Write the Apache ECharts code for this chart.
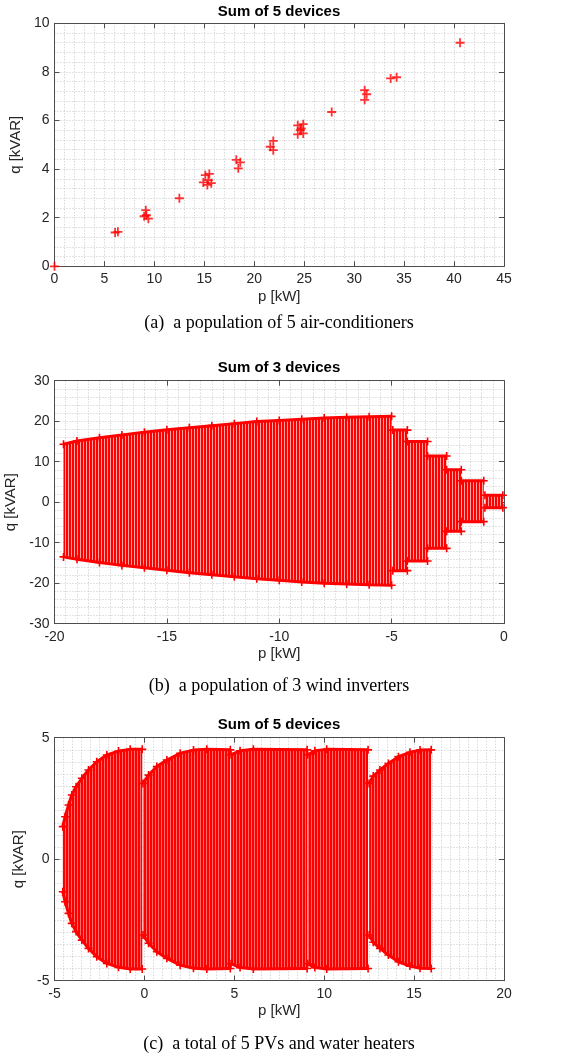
<!DOCTYPE html>
<html>
<head>
<meta charset="utf-8">
<script src="https://cdn.jsdelivr.net/npm/echarts@6/dist/echarts.min.js"></script>
<style>
  html, body { margin: 0; padding: 0; background: #fff; }
  #chart { width: 565px; height: 1059px; }
</style>
</head>
<body>
<div id="chart"></div>
<script>
// (a) 5 air-conditioners, p [kW] / q [kVAR]
const acP = [0, 6.07, 6.35, 8.97, 9.14, 9.2, 9.4, 12.5, 14.9, 15.1, 15.3, 15.4, 15.5, 15.7,
  18.2, 18.4, 18.6, 21.6, 21.9, 21.9, 24.35, 24.35, 24.6, 24.7, 24.9, 24.9, 27.75,
  31.05, 31.05, 31.25, 33.65, 34.25, 40.6];
const acQ = [0, 1.39, 1.42, 2.06, 2.31, 2.1, 1.96, 2.8, 3.45, 3.75, 3.35, 3.55, 3.8, 3.42,
  4.38, 4.03, 4.28, 4.92, 5.16, 4.78, 5.8, 5.43, 5.6, 5.67, 5.85, 5.47, 6.35,
  7.25, 6.85, 7.08, 7.73, 7.78, 9.2];
const acXTicks = [0, 5, 10, 15, 20, 25, 30, 35, 40, 45];
const acYTicks = [0, 2, 4, 6, 8, 10];

// (b) 3 wind inverters: big block + steps towards p = 0
const windMainP = [-19.6, -19, -18, -17, -16, -15, -14, -13, -12, -11, -10, -9, -8, -7, -6, -5];
const windMainTop = [14.3, 15.1, 15.9, 16.6, 17.3, 17.9, 18.4, 18.9, 19.4, 19.9, 20.2, 20.5, 20.8, 21.0, 21.1, 21.2];
const windMainBot = [-13.5, -14.1, -14.9, -15.6, -16.2, -16.8, -17.4, -17.9, -18.4, -18.9, -19.3, -19.7, -20.0, -20.2, -20.4, -20.5];
const windStepFrom = [-4.95, -4.3, -3.4, -2.55, -1.9, -0.85];
const windStepTo = [-4.3, -3.4, -2.55, -1.9, -0.9, -0.05];
const windStepTop = [17.8, 15.0, 11.4, 8.0, 5.3, 1.7];
const windStepBot = [-16.9, -14.5, -11.4, -7.2, -4.8, -1.35];
const windXTicks = [-20, -15, -10, -5, 0];
const windYTicks = [-30, -20, -10, 0, 10, 20, 30];

// (c) 5 PVs and water heaters: five lobes
const pvLobeP = [
  [-4.54, -4.41, -4.22, -4.04, -3.8, -3.48, -3.11, -2.65, -2.09, -1.44, -0.79, -0.12],
  [-0.08, 0.23, 0.69, 1.25, 1.99, 2.73, 3.47, 4.78],
  [4.82, 5.32, 6.06, 9.05],
  [9.08, 9.48, 10.14, 12.44],
  [12.5, 12.73, 13.1, 13.57, 14.13, 14.77, 15.33, 15.95]
];
const pvLobeTop = [
  [1.34, 1.75, 2.23, 2.64, 2.98, 3.33, 3.67, 4.01, 4.29, 4.45, 4.52, 4.52],
  [3.12, 3.46, 3.81, 4.08, 4.36, 4.49, 4.52, 4.5],
  [4.3, 4.46, 4.52, 4.5],
  [4.3, 4.46, 4.52, 4.5],
  [3.12, 3.42, 3.67, 3.94, 4.22, 4.4, 4.49, 4.5]
];
const pvLobeBot = [
  [-1.34, -1.75, -2.23, -2.64, -2.98, -3.33, -3.67, -4.01, -4.29, -4.45, -4.52, -4.52],
  [-3.12, -3.46, -3.81, -4.08, -4.36, -4.49, -4.52, -4.5],
  [-4.3, -4.46, -4.52, -4.5],
  [-4.3, -4.46, -4.52, -4.5],
  [-3.12, -3.42, -3.67, -3.94, -4.22, -4.4, -4.49, -4.5]
];
const pvXTicks = [-5, 0, 5, 10, 15, 20];
const pvYTicks = [-5, 0, 5];

const RED = '#ff0000';
const AXIS = '#4d4d4d';
const SANS = 'Liberation Sans';
const SERIF = 'Liberation Serif';
const plus = 'path://M-1 -5H1V-1H5V1H1V5H-1V1H-5V-1H-1Z';
const dots = { color: '#c6c6c6', width: 1, type: [1, 2] };

// vertical stripes like the densely drawn columns
function stripes(redW, pink) {
  const c = document.createElement('canvas');
  c.width = redW + 1; c.height = 4;
  const g = c.getContext('2d');
  g.fillStyle = pink; g.fillRect(0, 0, c.width, 4);
  g.fillStyle = RED; g.fillRect(0, 0, redW, 4);
  return { image: c, repeat: 'repeat' };
}

const panels = [
  { top: 23.3, xt: acXTicks, yt: acYTicks, xMinor: 5, yMinor: 5, yGap: 25 },
  { top: 380.7, xt: windXTicks, yt: windYTicks, xMinor: 10, yMinor: 5, yGap: 28 },
  { top: 737.7, xt: pvXTicks, yt: pvYTicks, xMinor: 10, yMinor: 10, yGap: 22 }
];

const grid = [], xAxis = [], yAxis = [];
panels.forEach((pn, i) => {
  grid.push({ left: 54.5, right: 61, top: pn.top, height: 243, outerBoundsMode: 'none' });
  const xr = { min: pn.xt[0], max: pn.xt[pn.xt.length - 1], interval: pn.xt[1] - pn.xt[0] };
  const yr = { min: pn.yt[0], max: pn.yt[pn.yt.length - 1], interval: pn.yt[1] - pn.yt[0] };
  const line = { show: true, onZero: false, lineStyle: { color: AXIS, width: 1 } };
  const tick = { show: true, inside: true, length: 5, lineStyle: { color: AXIS } };
  xAxis.push(Object.assign({
    gridIndex: i, type: 'value', position: 'bottom',
    axisLine: line, axisTick: tick,
    axisLabel: { color: '#262626', fontSize: 14, fontFamily: SANS, margin: 6 },
    splitLine: { show: true, lineStyle: dots },
    minorTick: { show: false, splitNumber: pn.xMinor },
    minorSplitLine: { show: true, lineStyle: dots },
    name: 'p [kW]', nameLocation: 'middle', nameGap: 23,
    nameTextStyle: { color: '#262626', fontSize: 15, fontFamily: SANS }
  }, xr));
  xAxis.push(Object.assign({
    gridIndex: i, type: 'value', position: 'top',
    axisLine: line, axisTick: tick, axisLabel: { show: false }, splitLine: { show: false }
  }, xr));
  yAxis.push(Object.assign({
    gridIndex: i, type: 'value', position: 'left',
    axisLine: line, axisTick: tick,
    axisLabel: { color: '#262626', fontSize: 14, fontFamily: SANS, margin: 5 },
    splitLine: { show: true, lineStyle: dots },
    minorTick: { show: false, splitNumber: pn.yMinor },
    minorSplitLine: { show: true, lineStyle: dots },
    name: 'q [kVAR]', nameLocation: 'middle', nameGap: pn.yGap,
    nameTextStyle: { color: '#262626', fontSize: 15, fontFamily: SANS }
  }, yr));
  yAxis.push(Object.assign({
    gridIndex: i, type: 'value', position: 'right',
    axisLine: line, axisTick: tick, axisLabel: { show: false }, splitLine: { show: false }
  }, yr));
});

// each lobe: filled region between top and bottom edge, plus the '+' edge markers
function lobeSeries(ax, lobes, fill) {
  const out = [{
    type: 'custom', xAxisIndex: ax, yAxisIndex: ax, clip: true, z: 2,
    data: lobes.map(l => [l.p[0], l.top[0]]),
    renderItem: (params, api) => {
      const l = lobes[params.dataIndex];
      const pts = l.p.map((p, k) => api.coord([p, l.top[k]]));
      for (let k = l.p.length - 1; k >= 0; k--) pts.push(api.coord([l.p[k], l.bot[k]]));
      return { type: 'polygon', shape: { points: pts }, style: { fill: fill } };
    }
  }];
  lobes.forEach(l => {
    [l.top, l.bot].forEach(edge => {
      out.push({
        type: 'line', xAxisIndex: ax, yAxisIndex: ax, z: 3,
        data: l.p.map((p, k) => [p, edge[k]]),
        symbol: plus, symbolSize: 8, showSymbol: true,
        itemStyle: { color: RED }, lineStyle: { color: RED, width: 3 }
      });
    });
  });
  return out;
}

const windLobes = [{ p: windMainP, top: windMainTop, bot: windMainBot }];
windStepFrom.forEach((p0, k) => {
  windLobes.push({
    p: [p0, windStepTo[k]],
    top: [windStepTop[k], windStepTop[k]],
    bot: [windStepBot[k], windStepBot[k]]
  });
});
const pvLobes = pvLobeP.map((p, k) => ({ p: p, top: pvLobeTop[k], bot: pvLobeBot[k] }));

const series = [{
  type: 'scatter', xAxisIndex: 0, yAxisIndex: 0,
  data: acP.map((p, k) => [p, acQ[k]]),
  symbol: plus, symbolSize: 9, itemStyle: { color: RED }
}].concat(lobeSeries(2, windLobes, stripes(2, '#ffa3a3')), lobeSeries(4, pvLobes, stripes(2, '#ff6a6a')));

const titleStyle = { fontSize: 15, fontWeight: 'bold', fontFamily: SANS, color: '#000' };
const capStyle = { fontSize: 18, fontWeight: 'normal', fontFamily: SERIF, color: '#000' };
const title = [
  { text: 'Sum of 5 devices', top: 4, textStyle: titleStyle },
  { text: '(a)  a population of 5 air-conditioners', top: 314, textStyle: capStyle },
  { text: 'Sum of 3 devices', top: 360, textStyle: titleStyle },
  { text: '(b)  a population of 3 wind inverters', top: 677, textStyle: capStyle },
  { text: 'Sum of 5 devices', top: 717, textStyle: titleStyle },
  { text: '(c)  a total of 5 PVs and water heaters', top: 1035, textStyle: capStyle }
].map(t => Object.assign({ left: 279, textAlign: 'center', padding: 0 }, t));

const chart = echarts.init(document.getElementById('chart'));
chart.setOption({
  animation: false,
  backgroundColor: '#fff',
  title: title,
  grid: grid,
  xAxis: xAxis,
  yAxis: yAxis,
  series: series
});
</script>
</body>
</html>
